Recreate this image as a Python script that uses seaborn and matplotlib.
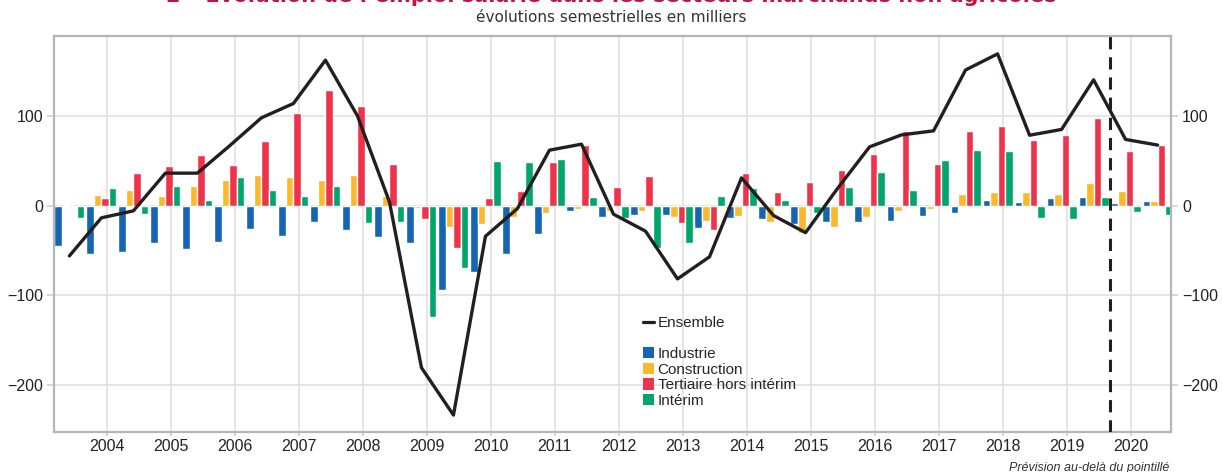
import numpy as np
import pandas as pd
import matplotlib
matplotlib.use("Agg")
import matplotlib.pyplot as plt
import seaborn as sns
from matplotlib.lines import Line2D
from matplotlib.patches import Patch

# semestres : juin et décembre, de juin 2003 à juin 2020
periodes = [f"{a}-{m}" for a in range(2003, 2021) for m in ("06", "12")][:35]

industrie = [-44.7, -53.7, -51.4, -41.4, -48, -40, -25.7, -33.5, -17.9, -26.8,
             -34.7, -41.4, -94.3, -73.8, -53.7, -31.3, -5.6, -12.3, -10, -10,
             -24.6, -13.4, -14.5, -20, -17.9, -18.2, -17, -11.5, -8.2, 6.4,
             4.1, 8.6, 9.7, 3, 5.3]
construction = [1, 12, 17.5, 10.8, 22, 28.7, 34.3, 32, 28.7, 34.3,
                10.8, -2, -23.5, -20.5, -12.3, -7.8, -3.4, -5.6, -5.6, -12.3,
                -16.8, -11.2, -17.9, -30, -23.5, -12.6, -5.9, -3.7, 13, 15.3,
                15.3, 13, 25.4, 16.4, 5.3]
tertiaire = [-1, 8.6, 36.6, 44.4, 56.7, 45.5, 72.7, 103.7, 129.4, 111.5,
             46.6, -14.5, -47, 8.6, 16.4, 48.9, 67.9, 20.9, 33.2, -19,
             -26.8, 36.6, 15.3, 26.5, 40, 57.8, 83.5, 46.6, 83.5, 89,
             73.5, 79, 98, 61, 67.9]
interim = [-13.4, 19.8, -9, 22, 6.4, 32, 17.5, 10.8, 22, -19,
           -17.9, -124, -69.4, 50, 48.9, 52.2, 9.7, -13.4, -47, -41.4,
           10.8, 19.8, 6.4, -7.8, 20.9, 37.7, 17.5, 51, 62.3, 61,
           -13.7, -14.9, 9.7, -7, -10.4]
ensemble = [-56, -13.4, -5.6, 36.6, 36.6, 67, 98.5, 114.5, 163, 100.7,
            4.5, -181, -234, -34, -3, 62.3, 69, -9.3, -28.3, -81.7,
            -57, 31.3, -10.8, -30, 19.5, 66, 79.4, 83.9, 152, 170,
            79, 85.5, 141, 74.3, 68]

secteurs = ["Industrie", "Construction", "Tertiaire hors intérim", "Intérim"]
couleurs = ["#1565b0", "#fbb829", "#ee344b", "#00a66b"]
annees = list(range(2004, 2021))
yticks = [-200, -100, 0, 100]

df = pd.DataFrame({
    "periode": periodes * 4,
    "secteur": np.repeat(secteurs, len(periodes)),
    "valeur": industrie + construction + tertiaire + interim,
})

sns.set_theme(style="white")
plt.rcParams["font.family"] = ["Liberation Sans", "DejaVu Sans"]
plt.rcParams["axes.unicode_minus"] = True

fig, ax = plt.subplots(figsize=(12.22, 4.72), dpi=100)
fig.subplots_adjust(left=0.0442, right=0.9583, bottom=0.0847, top=0.9237)

sns.barplot(data=df, x="periode", y="valeur", hue="secteur", hue_order=secteurs,
            palette=couleurs, width=0.94, saturation=1, legend=False, ax=ax)
sns.lineplot(x=np.arange(len(periodes)), y=ensemble, color="#231f20", lw=2.4,
             ax=ax, zorder=5)

# position du 1er janvier de chaque année, en semestres depuis juin 2003
pos_annees = [((a - 2003) * 12 - 5) / 6 for a in annees]
ax.set_xticks(pos_annees)
ax.set_xticklabels([str(a) for a in annees], fontsize=11.5, color="#222222")
ax.set_yticks(yticks)
ax.set_yticklabels([f"{v:d}".replace("-", "\u2212") for v in yticks],
                   fontsize=11.5, color="#222222")
ax.set_xlim(-0.48, 34.42)
ax.set_ylim(-253, 190)
ax.set_xlabel("")
ax.set_ylabel("")

ax.set_axisbelow(True)
ax.grid(True, color="#e0e0e0", lw=1.2)
for s in ax.spines.values():
    s.set_color("#b4b4bc")
    s.set_linewidth(1.6)
ax.tick_params(axis="y", which="both", left=True, right=True, labelright=True,
               length=5, width=1.2, color="#d0d0d0", pad=3)
ax.tick_params(axis="x", bottom=True, length=3, width=1.2, color="#d0d0d0", pad=2)

# prévision au-delà de septembre 2019
ax.axvline(32.5, color="#231f20", lw=2.2, ls=(0, (4, 2.6)), zorder=6)

handles = [Line2D([], [], color="#231f20", lw=2.3),
           Patch(facecolor="none", edgecolor="none")]
handles += [Patch(facecolor=c, edgecolor="none") for c in couleurs]
labels = ["Ensemble", ""] + secteurs
ax.legend(handles, labels, loc="upper left", bbox_to_anchor=(0.522, 0.308),
          frameon=False, fontsize=11, handlelength=0.7, handleheight=0.75,
          handletextpad=0.25, labelspacing=0.1, borderaxespad=0)

fig.text(0.5, 1 - 2.5 / 472,
         "2 – Évolution de l’emploi salarié dans les secteurs marchands non agricoles",
         ha="center", va="baseline", fontsize=15, fontweight="bold",
         color="#c4123f", family=["DejaVu Sans"])
fig.text(0.5, 1 - 18 / 472, "évolutions semestrielles en milliers",
         ha="center", va="center", fontsize=11, color="#333333",
         family=["Liberation Sans Narrow", "DejaVu Sans"])
fig.text(0.957, 1 - 461.5 / 472, "Prévision au-delà du pointillé",
         ha="right", va="top", fontsize=9, style="italic", color="#333333")

fig.savefig("out.png", dpi=100)
